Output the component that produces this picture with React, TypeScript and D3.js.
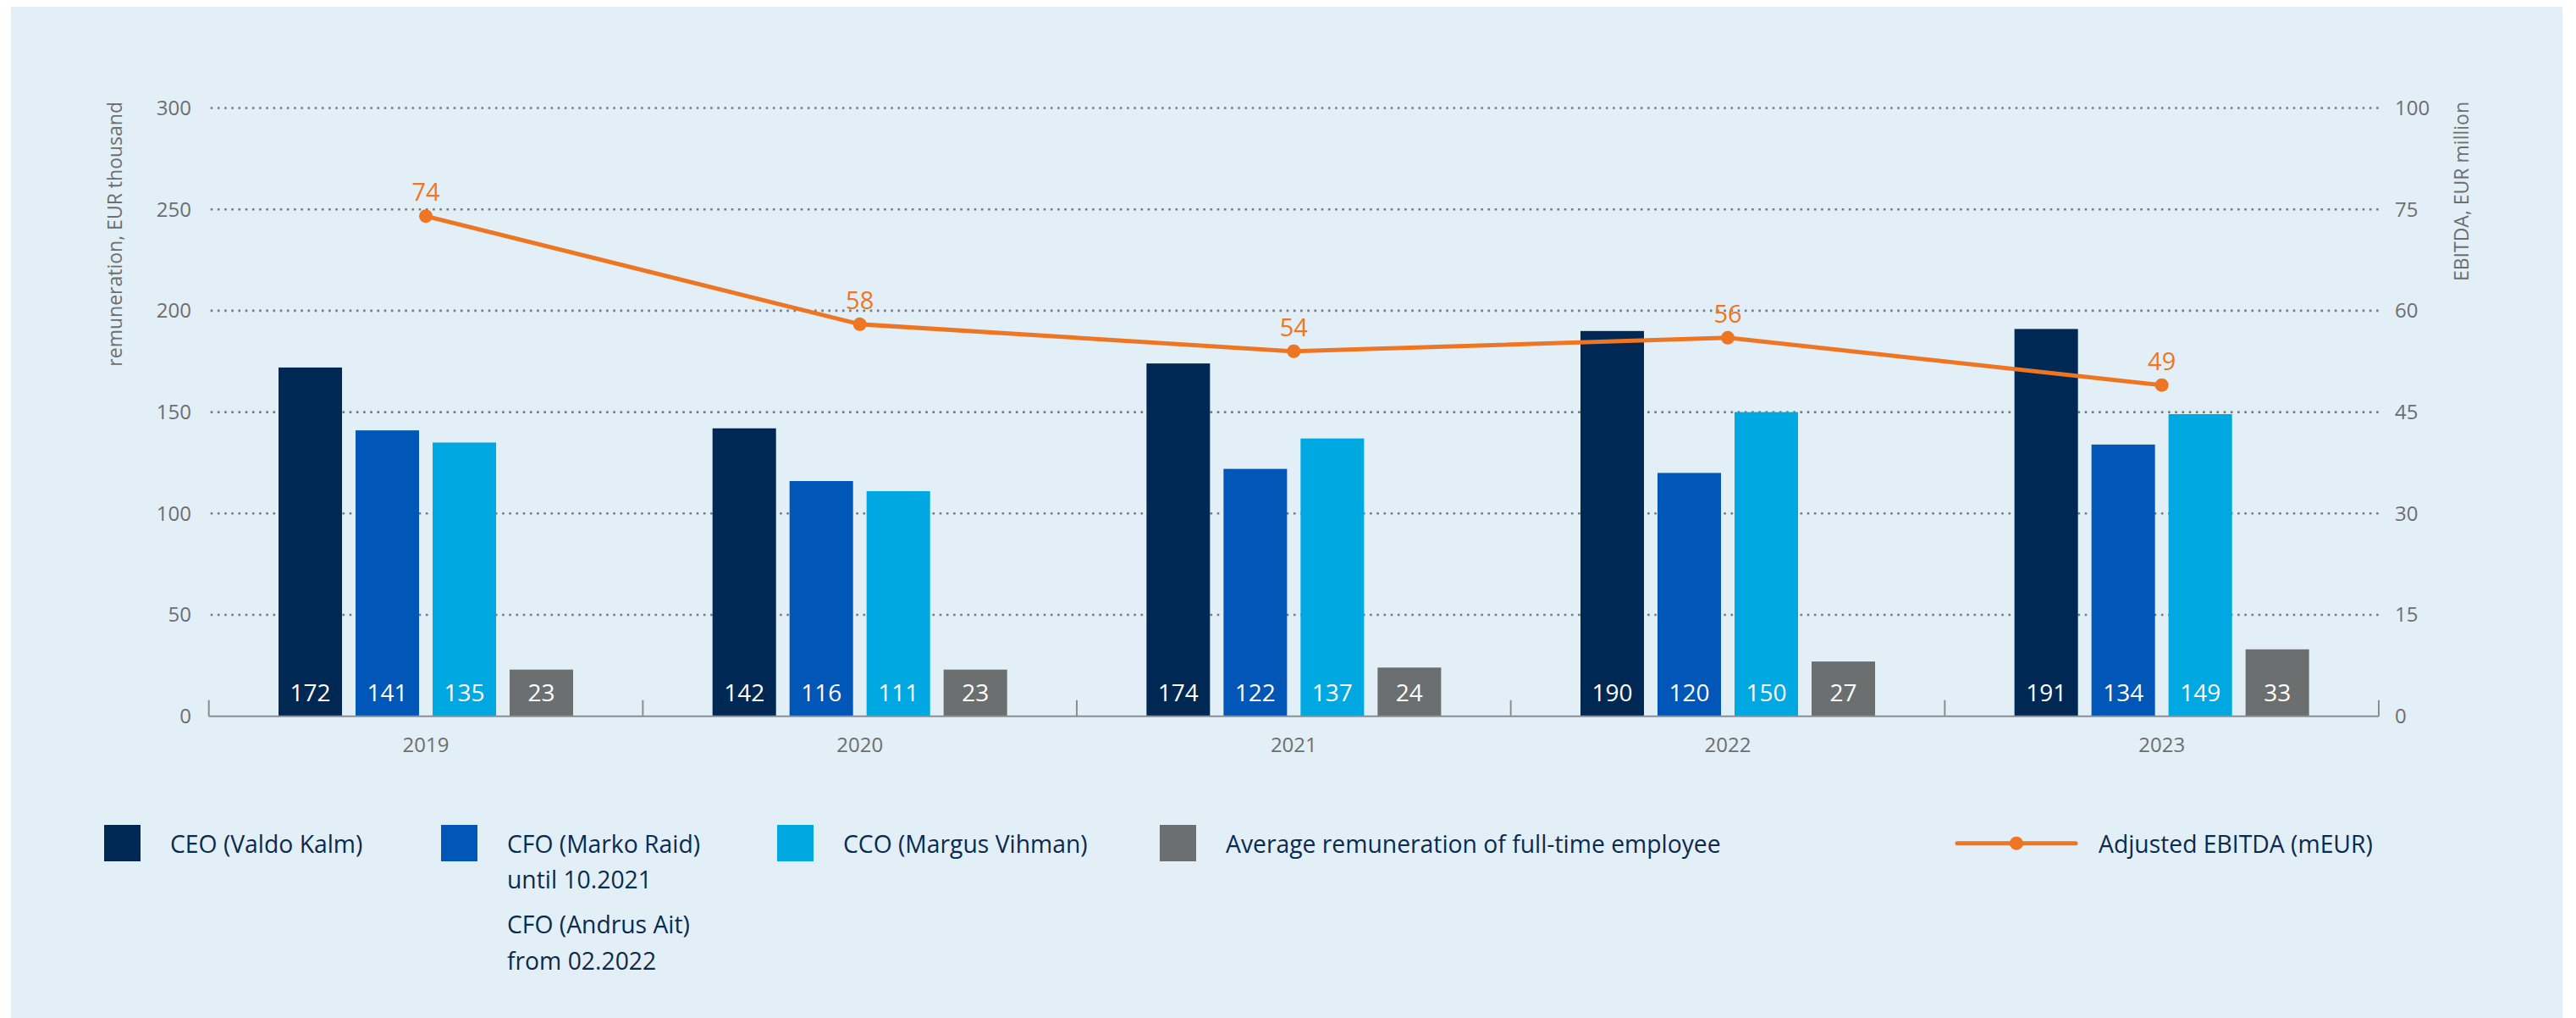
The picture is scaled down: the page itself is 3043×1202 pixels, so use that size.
import React from 'react'
import * as d3 from 'd3'

const years = ['2019', '2020', '2021', '2022', '2023']
const seriesKeys = ['ceo', 'cfo', 'cco', 'avg']
const ceoValues = [172, 142, 174, 190, 191]
const cfoValues = [141, 116, 122, 120, 134]
const ccoValues = [135, 111, 137, 150, 149]
const avgValues = [23, 23, 24, 27, 33]
const ebitdaValues = [74, 58, 54, 56, 49]
const leftTicks = [0, 50, 100, 150, 200, 250, 300]
const rightTicks = [0, 15, 30, 45, 60, 75, 90]
const rightTickLabels = ['0', '15', '30', '45', '60', '75', '100']

const colors: Record<string, string> = {
  ceo: '#002855',
  cfo: '#0057B8',
  cco: '#00A8E1',
  avg: '#6C6F70',
}
const orange = '#EE7623'
const navyText = '#0B2A4F'
const grey = '#6D6E70'
const font = '"Open Sans", sans-serif'

const W = 3043
const H = 1202
const plot = { left: 246.7, right: 2810, top: 127.5, bottom: 845.7 }

const App = () => {
  const x = d3.scaleBand().domain(years).range([plot.left, plot.right]).padding(0)
  const groupWidth = 348
  const inner = d3
    .scaleBand()
    .domain(seriesKeys)
    .range([0, groupWidth])
    .paddingInner(16 / 91)
  const y = d3.scaleLinear().domain([0, 300]).range([plot.bottom, plot.top])
  const yRight = d3.scaleLinear().domain([0, 90]).range([plot.bottom, plot.top])

  const valuesByKey: Record<string, number[]> = {
    ceo: ceoValues,
    cfo: cfoValues,
    cco: ccoValues,
    avg: avgValues,
  }

  const cx = (yr: string) => x(yr)! + x.bandwidth() / 2
  const line = d3
    .line<number>()
    .x((_, i) => cx(years[i]))
    .y((d) => yRight(d))

  const boundaries = [...years.map((yr) => x(yr)!), plot.right]

  const legendItems = [
    { key: 'ceo', x: 123, lines: ['CEO (Valdo Kalm)'] },
    {
      key: 'cfo',
      x: 521,
      lines: ['CFO (Marko Raid)', 'until 10.2021', 'CFO (Andrus Ait)', 'from 02.2022'],
    },
    { key: 'cco', x: 918, lines: ['CCO (Margus Vihman)'] },
    { key: 'avg', x: 1370, lines: ['Average remuneration of full-time employee'] },
  ]
  const lineOffsets = [0, 42, 95, 138]

  return (
    <svg
      width={W}
      height={H}
      style={{ position: 'absolute', left: 0, top: 0, fontFamily: font }}
    >
      <rect x={0} y={0} width={W} height={H} fill="#fff" />
      <rect x={13} y={8} width={3014} height={H - 8} fill="#E2EFF7" />

      {/* gridlines */}
      {leftTicks
        .filter((t) => t > 0)
        .map((t) => (
          <line
            key={'g' + t}
            x1={plot.left + 2}
            x2={plot.right + 2}
            y1={y(t)}
            y2={y(t)}
            stroke="#767B80"
            strokeWidth={2.6}
            strokeDasharray="2.6 5.6"
          />
        ))}

      {/* left ticks */}
      {leftTicks.map((t) => (
        <text
          key={'l' + t}
          x={226}
          y={y(t)}
          dy="0.35em"
          textAnchor="end"
          fontSize={24}
          fill={grey}
        >
          {t}
        </text>
      ))}
      {/* right ticks */}
      {rightTicks.map((t, i) => (
        <text key={'r' + t} x={2829} y={yRight(t)} dy="0.35em" fontSize={24} fill={grey}>
          {rightTickLabels[i]}
        </text>
      ))}

      <text
        transform={`translate(136,120) rotate(-90)`}
        dy="0.35em"
        textAnchor="end"
        fontSize={23}
        fill={grey}
      >
        remuneration, EUR thousand
      </text>
      <text
        transform={`translate(2908,120) rotate(-90)`}
        dy="0.35em"
        textAnchor="end"
        fontSize={23}
        fill={grey}
      >
        EBITDA, EUR million
      </text>

      {/* bars */}
      {years.map((yr, i) => {
        const gx = x(yr)! + (x.bandwidth() - groupWidth) / 2
        return (
          <g key={yr}>
            {seriesKeys.map((k) => {
              const v = valuesByKey[k][i]
              const bx = gx + inner(k)!
              return (
                <g key={k}>
                  <rect
                    x={bx}
                    y={y(v)}
                    width={inner.bandwidth()}
                    height={plot.bottom - y(v)}
                    fill={colors[k]}
                  />
                  <text
                    x={bx + inner.bandwidth() / 2}
                    y={828}
                    textAnchor="middle"
                    fontSize={28}
                    fill="#fff"
                  >
                    {v}
                  </text>
                </g>
              )
            })}
          </g>
        )
      })}

      {/* x axis */}
      <line
        x1={plot.left}
        x2={plot.right}
        y1={plot.bottom}
        y2={plot.bottom}
        stroke="#8A8E91"
        strokeWidth={2}
      />
      {boundaries.map((b, i) => (
        <line
          key={'t' + i}
          x1={b}
          x2={b}
          y1={plot.bottom}
          y2={plot.bottom - 19}
          stroke="#8A8E91"
          strokeWidth={2}
        />
      ))}
      {years.map((yr) => (
        <text key={'x' + yr} x={cx(yr)} y={887.7} textAnchor="middle" fontSize={24} fill={grey}>
          {yr}
        </text>
      ))}

      {/* EBITDA line */}
      <path d={line(ebitdaValues) ?? ''} fill="none" stroke={orange} strokeWidth={5} />
      {ebitdaValues.map((v, i) => (
        <g key={'p' + i}>
          <circle cx={cx(years[i])} cy={yRight(v)} r={8} fill={orange} />
          <text
            x={cx(years[i])}
            y={yRight(v) - 18}
            textAnchor="middle"
            fontSize={29}
            fill={orange}
          >
            {v}
          </text>
        </g>
      ))}

      {/* legend */}
      {legendItems.map((item) => (
        <g key={'lg' + item.key}>
          <rect x={item.x} y={974} width={43} height={43} fill={colors[item.key]} />
          {item.lines.map((ln, j) => (
            <text
              key={j}
              x={item.x + 78}
              y={1007 + lineOffsets[j]}
              fontSize={28.3}
              fill={navyText}
            >
              {ln}
            </text>
          ))}
        </g>
      ))}
      <line
        x1={2312}
        x2={2452}
        y1={995.7}
        y2={995.7}
        stroke={orange}
        strokeWidth={5}
        strokeLinecap="round"
      />
      <circle cx={2382} cy={995.7} r={8} fill={orange} />
      <text x={2479} y={1007} fontSize={28.3} fill={navyText}>
        Adjusted EBITDA (mEUR)
      </text>
    </svg>
  )
}

export default App
